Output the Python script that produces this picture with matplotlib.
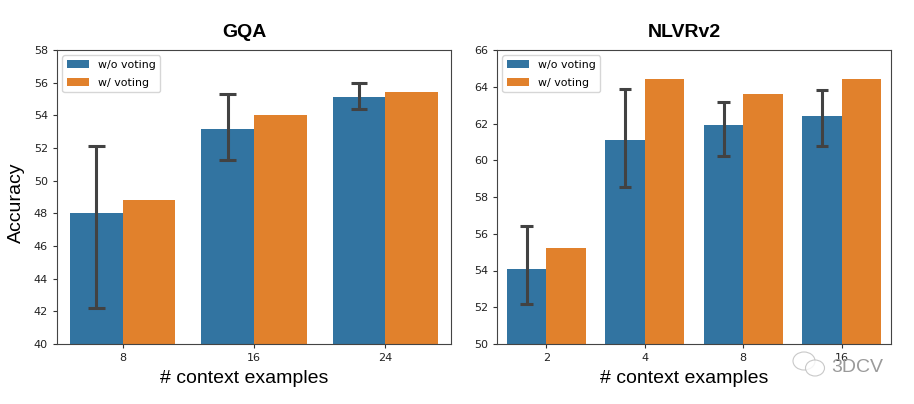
import numpy as np
import matplotlib
matplotlib.use('Agg')
import matplotlib.pyplot as plt
from matplotlib.patches import Ellipse

gqa_labels = ['8', '16', '24']
gqa_without = [48.0, 53.15, 55.15]
gqa_with = [48.8, 54.0, 55.4]
gqa_low = [42.2, 51.25, 54.4]
gqa_high = [52.1, 55.3, 55.95]

nlvr_labels = ['2', '4', '8', '16']
nlvr_without = [54.1, 61.1, 61.9, 62.4]
nlvr_with = [55.2, 64.4, 63.6, 64.4]
nlvr_low = [52.15, 58.55, 60.25, 60.8]
nlvr_high = [56.4, 63.9, 63.15, 63.85]

blue = '#3274a1'
orange = '#e1812c'
err = '#424242'
sans = 'Liberation Sans'


def panel(ax, labels, without, with_v, low, high, title, ylim):
    x = np.arange(len(labels))
    w = 0.4
    ax.bar(x - w/2, without, w, color=blue, label='w/o voting')
    ax.bar(x + w/2, with_v, w, color=orange, label='w/ voting')
    cap = 0.064
    ax.vlines(x - w/2, low, high, color=err, lw=2.2)
    ax.hlines(low, x - w/2 - cap, x - w/2 + cap, color=err, lw=2.2)
    ax.hlines(high, x - w/2 - cap, x - w/2 + cap, color=err, lw=2.2)
    ax.set_xticks(x)
    ax.set_xticklabels(labels)
    ax.set_xlim(-0.5, len(labels) - 0.5)
    ax.set_ylim(*ylim)
    ax.set_yticks(np.arange(ylim[0], ylim[1] + 1, 2))
    ax.tick_params(labelsize=8, length=3, width=0.8, pad=3.5, color='#333333', labelcolor='#222222')
    for s in ax.spines.values():
        s.set_color('#444444')
    ax.set_xlabel('# context examples', fontsize=14, family=sans, labelpad=5, x=0.476)
    ax.set_title(title, fontsize=14, fontweight='bold', family=sans, pad=9.5, x=0.476)
    ax.legend(loc='upper left', fontsize=7.9, labelspacing=0.7)


fig = plt.figure(figsize=(9.14, 4.04), dpi=100)
ax1 = fig.add_axes([57/914, 1 - 344/404, (451-57)/914, (344-50)/404])
ax2 = fig.add_axes([497/914, 1 - 344/404, (891-497)/914, (344-50)/404])

panel(ax1, gqa_labels, gqa_without, gqa_with, gqa_low, gqa_high, 'GQA', (40, 58))
panel(ax2, nlvr_labels, nlvr_without, nlvr_with, nlvr_low, nlvr_high, 'NLVRv2', (50, 66))
ax1.set_ylabel('Accuracy', fontsize=14, family=sans, labelpad=6, y=0.48)

# watermark bottom right, two chat bubbles and the name
px = matplotlib.transforms.Affine2D().scale(1, -1).translate(0, 404)
for cx, cy, rx, ry in [(804, 361, 11, 9), (815, 368, 9.5, 8)]:
    fig.add_artist(Ellipse((cx, cy), rx*2, ry*2, transform=px, fc='white', ec='#bbbbbb', lw=0.8, alpha=0.8))
fig.text(831/914, 1 - 367/404, '3DCV', fontsize=14, family=sans, color='#9a9a9a', va='center')

fig.savefig('out.png', dpi=100)
